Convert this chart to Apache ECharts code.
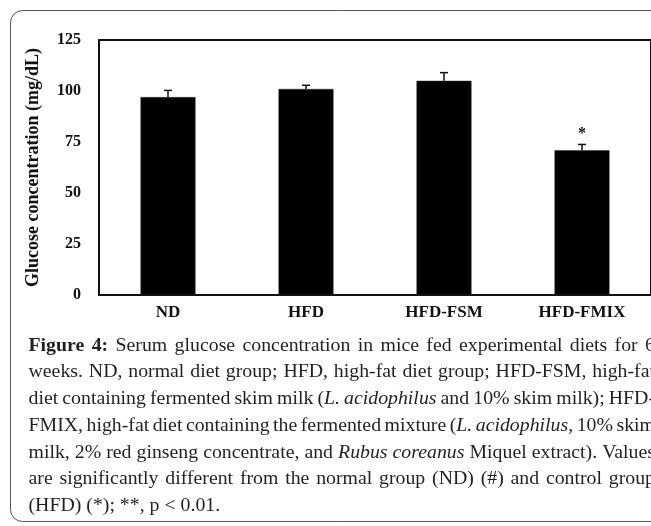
<!DOCTYPE html>
<html><head><meta charset="utf-8">
<script src="https://cdn.jsdelivr.net/npm/echarts@6/dist/echarts.min.js"></script>
<style>html,body{margin:0;padding:0;background:#fff}#c{width:651px;height:526px}</style>
</head><body><div id="c"></div>
<script>
// ---- data ----
const categories = ['ND', 'HFD', 'HFD-FSM', 'HFD-FMIX'];
const glucose = [97, 101, 105, 71];
const glucoseSE = [3.3, 1.8, 4.0, 2.8];
const significance = ['', '', '', '*'];
const yTicks = [0, 25, 50, 75, 100, 125];
const yAxisTitle = 'Glucose concentration (mg/dL)';

// caption lines: segments [text, style] where style: 'b' bold, 'i' italic, '' normal
const captionLines = [
  [['Figure 4:', 'b'], [' Serum glucose concentration in mice fed experimental diets for 6', '']],
  [['weeks. ND, normal diet group; HFD, high-fat diet group; HFD-FSM, high-fat', '']],
  [['diet containing fermented skim milk (', ''], ['L. acidophilus', 'i'], [' and 10% skim milk); HFD-', '']],
  [['FMIX, high-fat diet containing the fermented mixture (', ''], ['L. acidophilus', 'i'], [', 10% skim', '']],
  [['milk, 2% red ginseng concentrate, and ', ''], ['Rubus coreanus', 'i'], [' Miquel extract). Values', '']],
  [['are significantly different from the normal group (ND) (#) and control group', '']],
  [['(HFD) (*); **, p < 0.01.', '']]
];

const chart = echarts.init(document.getElementById('c'), null, {renderer: 'canvas'});

const FONT = '"Liberation Serif", "Times New Roman", serif';
const CAP_SIZE = 18;
const CAP_LEFT = 28.5, CAP_RIGHT = 655, CAP_TOP = 346, CAP_STEP = 26.7;
const TIGHT_SPACE = 3.5;

const mctx = document.createElement('canvas').getContext('2d');
function fontStr(st) {
  return (st === 'i' ? 'italic ' : '') + (st === 'b' ? 'bold ' : '') + CAP_SIZE + 'px ' + FONT;
}
function measure(t, st) { mctx.font = fontStr(st); return mctx.measureText(t).width; }

function splitWords(segs) {
  const words = [];
  let cur = [];
  segs.forEach(([txt, st]) => {
    txt.split(' ').forEach((p, k) => {
      if (k > 0) { if (cur.length) words.push(cur); cur = []; }
      if (p.length) cur.push([p, st]);
    });
  });
  if (cur.length) words.push(cur);
  return words;
}
const lineWords = captionLines.map(splitWords);
const lineWidths = lineWords.map(ws => ws.map(w => w.reduce((s, [t, st]) => s + measure(t, st), 0)));
// horizontal stretch: the densest justified line fills the measure with narrow spaces
let SX = Infinity;
lineWords.forEach((ws, li) => {
  if (li === lineWords.length - 1) return;
  const nat = lineWidths[li].reduce((a, b) => a + b, 0);
  SX = Math.min(SX, (CAP_RIGHT - CAP_LEFT - (ws.length - 1) * TIGHT_SPACE) / nat);
});

const captionGraphics = [];
lineWords.forEach((words, li) => {
  const widths = lineWidths[li].map(w => w * SX);
  const total = widths.reduce((a, b) => a + b, 0);
  const justify = li < captionLines.length - 1;
  const gap = justify ? (CAP_RIGHT - CAP_LEFT - total) / (words.length - 1) : measure(' ', '') * SX;
  let x = CAP_LEFT;
  const y = CAP_TOP + li * CAP_STEP;
  words.forEach((w, wi) => {
    let px = x;
    w.forEach(([t, st]) => {
      captionGraphics.push({
        type: 'text', x: px, y: y, scaleX: SX, silent: true,
        style: {text: t, font: fontStr(st), fill: '#231f20', align: 'left', verticalAlign: 'middle'}
      });
      px += measure(t, st) * SX;
    });
    x += widths[wi] + gap;
  });
});

const option = {
  animation: false,
  backgroundColor: '#fff',
  grid: {left: 99, top: 40, width: 555, height: 255, show: true, borderColor: '#111', borderWidth: 2, backgroundColor: 'transparent'},
  xAxis: {
    type: 'category', data: categories,
    axisLine: {show: true, lineStyle: {color: '#111', width: 2}},
    axisTick: {show: false},
    axisLabel: {color: '#111', fontFamily: FONT, fontWeight: 'bold', fontSize: 17, margin: 9}
  },
  yAxis: {
    type: 'value', min: 0, max: 125, interval: 25,
    name: yAxisTitle, nameLocation: 'middle', nameRotate: 90, nameGap: 57,
    nameTextStyle: {color: '#111', fontFamily: FONT, fontWeight: 'bold', fontSize: 18},
    axisLine: {show: true, lineStyle: {color: '#111', width: 2}},
    axisTick: {show: false},
    splitLine: {show: false},
    axisLabel: {color: '#111', fontFamily: FONT, fontWeight: 'bold', fontSize: 16, margin: 18,
      formatter: v => (yTicks.indexOf(v) >= 0 ? String(v) : '')}
  },
  series: [
    {
      type: 'bar', data: glucose, barWidth: 55,
      itemStyle: {color: '#000', borderColor: '#333', borderWidth: 0.5}
    },
    {
      type: 'custom', z: 5,
      data: glucose.map((v, i) => [i, v, glucoseSE[i]]),
      renderItem: function (params, api) {
        const i = api.value(0), v = api.value(1), e = api.value(2);
        const base = api.coord([i, v]);
        const top = api.coord([i, v + e]);
        const half = 4;
        const st = {stroke: '#111', lineWidth: 1.5};
        const children = [
          {type: 'line', shape: {x1: base[0], y1: base[1], x2: top[0], y2: top[1]}, style: st},
          {type: 'line', shape: {x1: top[0] - half, y1: top[1], x2: top[0] + half, y2: top[1]}, style: st}
        ];
        const sig = significance[params.dataIndex];
        if (sig) {
          children.push({type: 'text', style: {text: sig, x: top[0], y: top[1] - 3, align: 'center', verticalAlign: 'bottom',
            font: 'bold 16px ' + FONT, fill: '#111'}});
        }
        return {type: 'group', children: children};
      }
    }
  ],
  graphic: [
    {type: 'rect', silent: true, z: -1, shape: {x: 10.5, y: 10.5, width: 700, height: 511, r: 12},
      style: {fill: 'none', stroke: '#555', lineWidth: 1}},
    {type: 'group', children: captionGraphics}
  ]
};
chart.setOption(option);
</script>
</body></html>
